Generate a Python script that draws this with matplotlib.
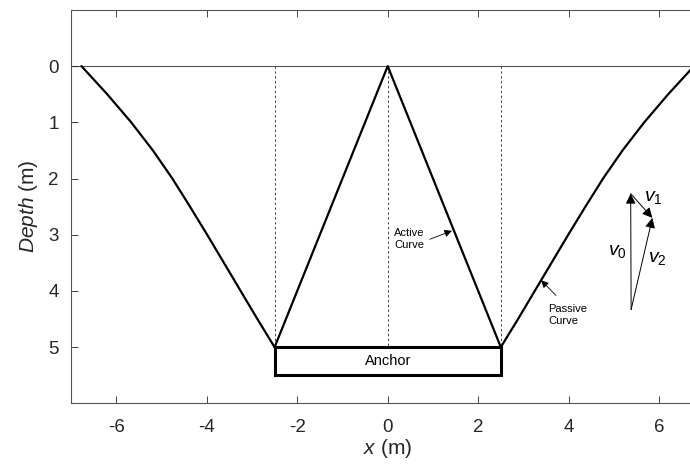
import numpy as np
import matplotlib
matplotlib.use("Agg")
import matplotlib.pyplot as plt

plt.rcParams['font.family'] = ['Liberation Sans', 'DejaVu Sans']
plt.rcParams['mathtext.fontset'] = 'custom'
plt.rcParams['mathtext.rm'] = 'Liberation Sans'
plt.rcParams['mathtext.it'] = 'Liberation Sans:italic'
plt.rcParams['axes.unicode_minus'] = False

# ---- data ----
passive_depth = [0, 0.5, 1, 1.5, 2, 2.5, 3, 3.5, 4, 4.5, 5]
passive_x = [-6.77, -6.20, -5.67, -5.19, -4.76, -4.37, -3.99, -3.62, -3.25, -2.88, -2.50]
active_x = [-2.5, 0, 2.5]
active_depth = [5, 0, 5]
dashed_x = [-2.5, 0, 2.5]
anchor_x = [-2.5, 2.5]
anchor_depth = [5.0, 5.5]
v_origin = (5.38, 4.33)
v0_tip = (5.37, 2.27)
v12_tip = (5.85, 2.70)
xticks = [-6, -4, -2, 0, 2, 4, 6]
yticks = [0, 1, 2, 3, 4, 5]

fig = plt.figure(figsize=(6.9, 4.7), dpi=100)
ax = fig.add_axes([0.1029, 0.1417, 0.918, 0.8373])
axc = '#262626'

ax.axhline(0, color='#555555', lw=0.8, zorder=1)
for xd in dashed_x:
    ax.plot([xd, xd], [0, 5], ls=(0, (2.5, 2.5)), color='#444444', lw=0.7, zorder=1)

px = np.array(passive_x)
pd = np.array(passive_depth)
ax.plot(px, pd, color='k', lw=1.6, solid_capstyle='round', solid_joinstyle='round', zorder=3)
ax.plot(-px, pd, color='k', lw=1.6, solid_capstyle='round', solid_joinstyle='round', zorder=3)
ax.plot(active_x, active_depth, color='k', lw=1.6, zorder=3)

# anchor
ax.plot([anchor_x[0], anchor_x[1], anchor_x[1], anchor_x[0], anchor_x[0]],
        [anchor_depth[0], anchor_depth[0], anchor_depth[1], anchor_depth[1], anchor_depth[0]],
        color='k', lw=2.2, zorder=4, solid_joinstyle='miter')
ax.text(0, (anchor_depth[0] + anchor_depth[1]) / 2, 'Anchor', ha='center', va='center', fontsize=10.5)

# annotations
ap = dict(arrowstyle='-|>', color='k', lw=0.6, mutation_scale=11, shrinkA=0, shrinkB=0)
ax.annotate('', xy=(1.42, 2.93), xytext=(0.93, 3.08), arrowprops=ap)
ax.text(0.14, 3.07, 'Active\nCurve', ha='left', va='center', fontsize=8, linespacing=1.25)
ax.annotate('', xy=(3.39, 3.81), xytext=(3.72, 4.08), arrowprops=ap)
ax.text(3.55, 4.42, 'Passive\nCurve', ha='left', va='center', fontsize=8, linespacing=1.25)

# vectors
vp = dict(arrowstyle='-|>', color='k', lw=0.7, mutation_scale=15, shrinkA=0, shrinkB=0)
ax.annotate('', xy=v0_tip, xytext=v_origin, arrowprops=vp)
ax.annotate('', xy=v12_tip, xytext=v0_tip, arrowprops=vp)
ax.annotate('', xy=v12_tip, xytext=v_origin, arrowprops=vp)
ax.text(5.08, 3.3, r'$v_0$', ha='center', va='center', fontsize=14)
ax.text(5.87, 2.33, r'$v_1$', ha='center', va='center', fontsize=14)
ax.text(5.95, 3.42, r'$v_2$', ha='center', va='center', fontsize=14)

ax.set_xlim(-7, 7)
ax.set_ylim(6, -1)
ax.set_xticks(xticks)
ax.set_yticks(yticks)
ax.tick_params(direction='in', length=5, width=0.6, colors=axc, labelsize=13.5,
               top=True, right=True, pad=9)
ax.tick_params(axis='x', pad=11)
for s in ax.spines.values():
    s.set_color('#555555')
    s.set_linewidth(0.8)

ax.set_xlabel(r'$\it{x}$ (m)', fontsize=15, color=axc, labelpad=1)
ax.set_ylabel(r'$\it{Depth}$ (m)', fontsize=15, color=axc, labelpad=6)

fig.savefig('out.png', dpi=100)
